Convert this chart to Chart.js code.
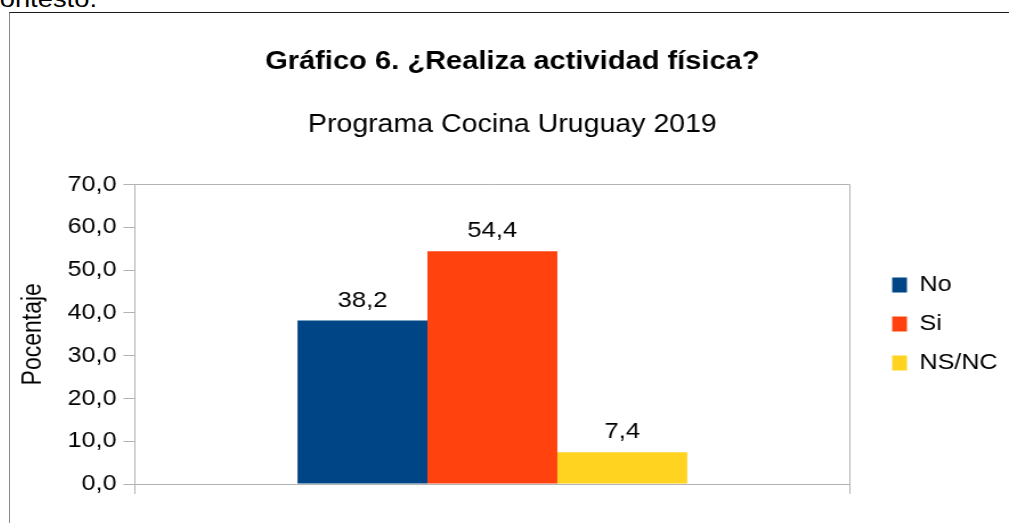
<!DOCTYPE html>
<html>
<head>
<meta charset="utf-8">
<script src="https://cdn.jsdelivr.net/npm/chart.js@4"></script>
<style>
  html, body { margin: 0; padding: 0; background: #fff; overflow: hidden; }
  body { width: 1009px; height: 523px; position: relative; }
  #prev { position: absolute; left: -14px; top: -13px; font: 24px 'Liberation Sans', Arial, sans-serif; line-height: 24px; color: #000; transform: scaleX(1.14); transform-origin: 0 0; white-space: nowrap; }
  #frame { position: absolute; left: 9px; top: 12px; width: 1010px; height: 520px; border-left: 1px solid #8a8a8a; border-top: 1px solid #1a1a1a; }
  #chart { position: absolute; left: 0; top: 0; transform: scaleX(1.1404); transform-origin: 0 0; }
</style>
</head>
<body>
<div id="prev">contesto.</div>
<div id="frame">
  <canvas id="chart" width="876" height="510"></canvas>
</div>
<script>
const categories = [''];
const seriesNames = ['No', 'Si', 'NS/NC'];
const noValues = [38.2];
const siValues = [54.4];
const nsncValues = [7.4];
const seriesColors = ['#004586', '#ff420e', '#ffd320'];
const yMin = 0;
const yMax = 70;
const yStep = 10;

const gridGray = '#b3b3b3';
Chart.defaults.font.family = "'Liberation Sans', Arial, sans-serif";
Chart.defaults.color = '#000';

function fmt(v) {
    return Number(v).toFixed(1).replace('.', ',');
}

// value labels above the bars
const barLabels = {
    id: 'barLabels',
    afterDatasetsDraw(chart) {
        const ctx = chart.ctx;
        ctx.save();
        ctx.font = "22.5px 'Liberation Sans', Arial, sans-serif";
        ctx.fillStyle = '#000';
        ctx.textAlign = 'center';
        ctx.textBaseline = 'alphabetic';
        chart.data.datasets.forEach((ds, i) => {
            chart.getDatasetMeta(i).data.forEach((bar, j) => {
                ctx.fillText(fmt(ds.data[j]), bar.x, bar.y - 14);
            });
        });
        ctx.restore();
    }
};

// legend block starts a little above the middle of the plot
const legendTop = {
    id: 'legendTop',
    afterLayout(chart) {
        const lg = chart.legend;
        if (!lg) return;
        lg.top = 244;
        lg.bottom = lg.top + lg.height;
    }
};

new Chart(document.getElementById('chart'), {
    type: 'bar',
    data: {
        labels: categories,
        datasets: [
            { label: seriesNames[0], data: noValues, backgroundColor: seriesColors[0] },
            { label: seriesNames[1], data: siValues, backgroundColor: seriesColors[1] },
            { label: seriesNames[2], data: nsncValues, backgroundColor: seriesColors[2] }
        ]
    },
    options: {
        responsive: false,
        animation: false,
        devicePixelRatio: 1,
        layout: { padding: { left: 5, right: 0, top: 0, bottom: 29 } },
        categoryPercentage: 0.545,
        barPercentage: 1,
        plugins: {
            title: {
                display: true,
                text: 'Gráfico 6. ¿Realiza actividad física?',
                font: { size: 25.5, weight: 'bold' },
                color: '#000',
                padding: { top: 34, bottom: 16 }
            },
            subtitle: {
                display: true,
                text: 'Programa Cocina Uruguay 2019',
                font: { size: 25 },
                color: '#000',
                padding: { top: 17, bottom: 44 }
            },
            legend: {
                position: 'right',
                align: 'start',
                labels: {
                    boxWidth: 13,
                    boxHeight: 15,
                    padding: 17,
                    font: { size: 22 },
                    color: '#000'
                }
            },
            tooltip: { enabled: false }
        },
        scales: {
            x: {
                grid: { offset: true, color: gridGray, tickColor: gridGray, tickLength: 10 },
                border: { color: gridGray },
                ticks: { display: false }
            },
            y: {
                min: yMin,
                max: yMax,
                ticks: { stepSize: yStep, padding: 6, font: { size: 22 }, color: '#000', callback: v => fmt(v) },
                grid: {
                    color: c => (c.tick && c.tick.value === yMax) ? gridGray : 'rgba(0,0,0,0)',
                    tickColor: gridGray,
                    tickLength: 10
                },
                border: { color: gridGray },
                title: {
                    display: true,
                    text: 'Pocentaje',
                    font: { size: 23 },
                    color: '#000',
                    padding: { top: 1.5, bottom: 10.5 }
                }
            },
            // empty spacer between plot and legend
            gap: {
                type: 'linear',
                position: 'right',
                display: true,
                grid: { display: false, drawTicks: false },
                border: { display: false },
                ticks: { display: false },
                title: { display: true, text: ' ', font: { size: 10, lineHeight: 1 }, padding: { top: 10, bottom: 0 } }
            }
        }
    },
    plugins: [barLabels, legendTop]
});
</script>
</body>
</html>
